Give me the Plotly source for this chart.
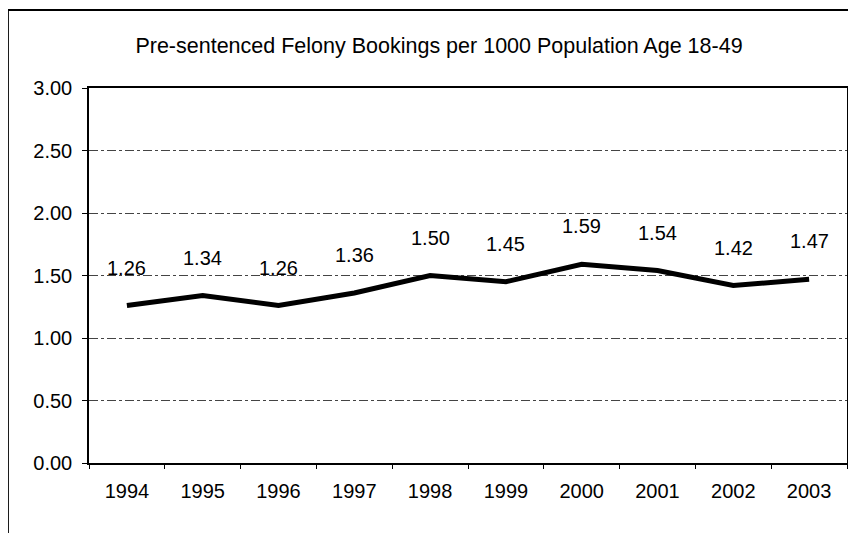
import plotly.graph_objects as go

years = ["1994", "1995", "1996", "1997", "1998", "1999", "2000", "2001", "2002", "2003"]
bookings = [1.26, 1.34, 1.26, 1.36, 1.50, 1.45, 1.59, 1.54, 1.42, 1.47]
y_ticks = [0, 0.5, 1.0, 1.5, 2.0, 2.5, 3.0]
y_tick_text = ["0.00", "0.50", "1.00", "1.50", "2.00", "2.50", "3.00"]

fig = go.Figure()
fig.add_trace(go.Scatter(
    x=years, y=bookings, mode="lines",
    line=dict(color="black", width=5),
    hoverinfo="x+y", showlegend=False,
))

# value labels sit well above each point, as in the original
# (category index used for x, numeric-looking names get read as indices)
for i, v in enumerate(bookings):
    fig.add_annotation(x=i, y=v, text=f"{v:.2f}", showarrow=False,
                       yshift=38, font=dict(size=20, color="black"))

# outer chart frame (left and top edges visible)
fig.add_shape(type="line", xref="paper", yref="paper",
              x0=-0.107, x1=1.03, y0=1.208, y1=1.208,
              line=dict(color="black", width=2))
fig.add_shape(type="line", xref="paper", yref="paper",
              x0=-0.107, x1=-0.107, y0=1.208, y1=-0.25,
              line=dict(color="black", width=2))

# page body adds ~8px offset, margins account for it
fig.update_layout(
    width=856, height=533,
    margin=dict(l=81, r=17, t=80, b=78),
    paper_bgcolor="white", plot_bgcolor="white",
    font=dict(family="Liberation Sans, Arial, sans-serif", color="black"),
    title=dict(text="Pre-sentenced Felony Bookings per 1000 Population Age 18-49",
               x=431 / 856, xanchor="center", xref="container",
               y=1 - 37 / 533, yanchor="middle", yref="container",
               font=dict(size=21.5, color="black")),
)
fig.update_xaxes(
    type="category", range=[-0.5, len(years) - 0.5],
    showline=True, linecolor="black", linewidth=1.5, mirror=True,
    ticks="outside", ticklen=4, tickcolor="black", tickson="boundaries",
    tickfont=dict(size=20), tickangle=0, ticklabelstandoff=9,
    showgrid=False, zeroline=False,
)
fig.update_yaxes(
    range=[0, 3.0], tickvals=y_ticks, ticktext=y_tick_text,
    showline=True, linecolor="black", linewidth=1.5, mirror=True,
    ticks="outside", ticklen=5, tickcolor="black", tickfont=dict(size=20),
    ticklabelstandoff=6,
    showgrid=True, gridcolor="#444444", gridwidth=1, griddash="dashdot",
    zeroline=False,
)

fig.write_html("out.html")
